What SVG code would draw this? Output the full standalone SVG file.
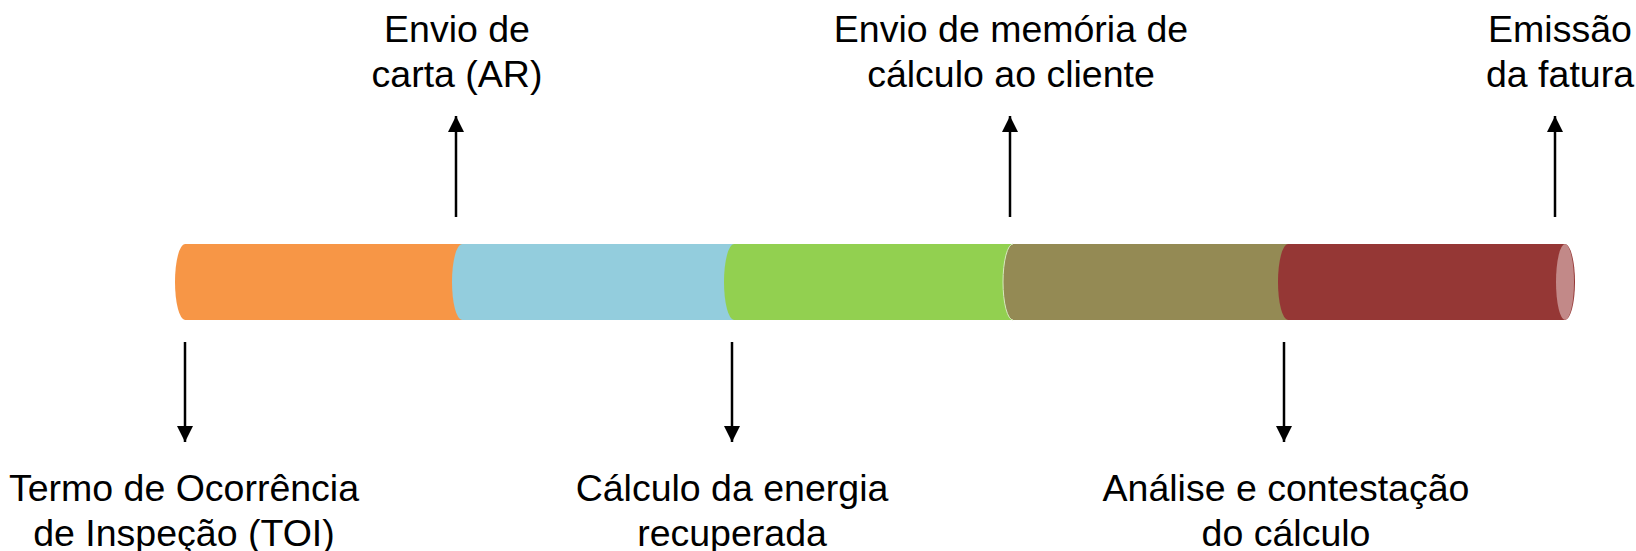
<svg xmlns="http://www.w3.org/2000/svg" width="1636" height="551" viewBox="0 0 1636 551">
  <style>
    .lbl { font-family: "Liberation Sans", Arial, sans-serif; font-size: 37.5px; fill: #000; text-anchor: middle; }
    .arr { stroke: #000; stroke-width: 2.5; fill: none; marker-end: url(#ah); }
  </style>
  <defs>
    <marker id="ah" markerUnits="userSpaceOnUse" markerWidth="16" markerHeight="16" refX="16" refY="8" orient="auto">
      <path d="M0,0 L16,8 L0,16 Z" fill="#000"/>
    </marker>
  </defs>
  <rect width="1636" height="551" fill="#fff"/>
  <g id="bar">
    <g id="seg-orange"><path d="M185,244 L462,244 A10 38 0 0 1 462,320 L185,320 A10 38 0 0 1 185,244 Z" fill="#F79646"/></g>
    <g id="seg-blue"><path d="M462,244 L734,244 A10 38 0 0 1 734,320 L462,320 A10 38 0 0 1 462,244 Z" fill="#93CDDD"/></g>
    <g id="seg-green"><path d="M734,244 L1013,244 A10 38 0 0 1 1013,320 L734,320 A10 38 0 0 1 734,244 Z" fill="#92D050"/></g>
    <g id="seg-olive"><path d="M1013,244 L1288,244 A10 38 0 0 1 1288,320 L1013,320 A10 38 0 0 1 1013,244 Z" fill="#948A54"/>
      <path d="M1013,320 A10 38 0 0 1 1013,244" fill="none" stroke="#D6E9BE" stroke-width="1"/></g>
    <g id="seg-red"><path d="M1288,244 L1565,244 A10 38 0 0 1 1565,320 L1288,320 A10 38 0 0 1 1288,244 Z" fill="#953735"/></g>
    <g id="cap"><ellipse cx="1565" cy="282" rx="9" ry="38" fill="#C28988"/></g>
  </g>
  <g id="connectors">
    <line class="arr" x1="185" y1="342" x2="185" y2="442"/>
    <line class="arr" x1="456" y1="217" x2="456" y2="116"/>
    <line class="arr" x1="732" y1="342" x2="732" y2="442"/>
    <line class="arr" x1="1010" y1="217" x2="1010" y2="116"/>
    <line class="arr" x1="1284" y1="342" x2="1284" y2="442"/>
    <line class="arr" x1="1555" y1="217" x2="1555" y2="116"/>
  </g>
  <g id="label-toi"><text class="lbl" x="184" y="501">Termo de Ocorrência</text><text class="lbl" x="184" y="546">de Inspeção (TOI)</text></g>
  <g id="label-carta"><text class="lbl" x="457" y="42">Envio de</text><text class="lbl" x="457" y="87">carta (AR)</text></g>
  <g id="label-calculo"><text class="lbl" x="732" y="501">Cálculo da energia</text><text class="lbl" x="732" y="546">recuperada</text></g>
  <g id="label-memoria"><text class="lbl" x="1011" y="42">Envio de memória de</text><text class="lbl" x="1011" y="87">cálculo ao cliente</text></g>
  <g id="label-analise"><text class="lbl" x="1286" y="501">Análise e contestação</text><text class="lbl" x="1286" y="546">do cálculo</text></g>
  <g id="label-fatura"><text class="lbl" x="1560" y="42">Emissão</text><text class="lbl" x="1560" y="87">da fatura</text></g>
</svg>
